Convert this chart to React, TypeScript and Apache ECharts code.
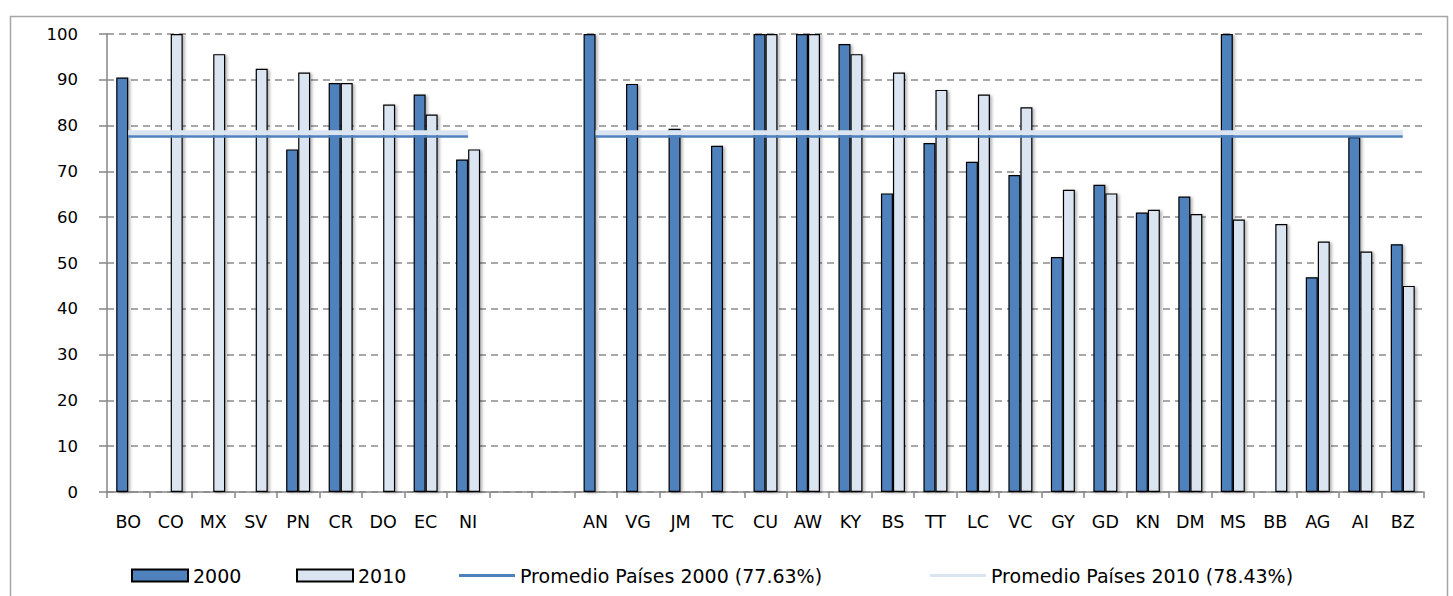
import React, { useEffect, useRef } from "react";
import * as echarts from "echarts";

const categories = ["BO", "CO", "MX", "SV", "PN", "CR", "DO", "EC", "NI", " ", "  ", "AN", "VG", "JM", "TC", "CU", "AW", "KY", "BS", "TT", "LC", "VC", "GY", "GD", "KN", "DM", "MS", "BB", "AG", "AI", "BZ"];

const values2000 = [90.5, null, null, null, 74.8, 89.3, null, 86.8, 72.6, null, null, 100, 89.1, 79.3, 75.6, 100, 100, 97.8, 65.2, 76.2, 72.1, 69.2, 51.3, 67.1, 61.0, 64.5, 100, null, 46.9, 77.5, 54.1];
const values2010 = [null, 100, 95.6, 92.4, 91.6, 89.3, 84.6, 82.4, 74.8, null, null, null, null, null, null, 100, 100, 95.6, 91.6, 87.8, 86.8, 84.0, 66.0, 65.2, 61.6, 60.7, 59.5, 58.5, 54.7, 52.5, 45.0];

const avg2000 = 77.63;
const avg2010 = 78.43;

const seriesNames = ["2000", "2010", "Promedio Países 2000 (77.63%)", "Promedio Países 2010 (78.43%)"];
const yTicks = [0, 10, 20, 30, 40, 50, 60, 70, 80, 90, 100];

const DARK = "#4F81BD";
const LIGHT = "#DBE5F1";
const FONT = "DejaVu Sans";

export default function App() {
  const ref = useRef<HTMLDivElement>(null);

  useEffect(() => {
    if (!ref.current) return;
    const chart = echarts.init(ref.current, null, { renderer: "svg" });
    const isGap = (c: string) => c.trim() === "";
    const line2000 = categories.map((c) => (isGap(c) ? null : avg2000));
    const line2010 = categories.map((c) => (isGap(c) ? null : avg2010));

    const barStyle = (color: string) => ({
      color,
      borderColor: "#000",
      borderWidth: 1.2,
      shadowColor: "rgba(0,0,0,0.3)",
      shadowBlur: 3,
      shadowOffsetX: 2,
      shadowOffsetY: 1,
    });

    const legendBase = {
      top: 561,
      itemWidth: 56,
      itemGap: 6,
      textStyle: { fontFamily: FONT, fontSize: 19, color: "#000" },
      selectedMode: false,
    };

    chart.setOption({
      animation: false,
      backgroundColor: "#fff",
      grid: { left: 107, right: 29, top: 34, bottom: 104, containLabel: false },
      graphic: [
        {
          type: "rect",
          left: 8,
          top: 14,
          shape: { width: 1437, height: 600 },
          style: { fill: "none", stroke: "#A6A6A6", lineWidth: 1.5 },
          silent: true,
        },
      ],
      legend: [
        { ...legendBase, left: 126, itemHeight: 12, icon: "rect", data: [seriesNames[0]] },
        { ...legendBase, left: 291, itemHeight: 12, icon: "rect", data: [seriesNames[1]] },
        { ...legendBase, left: 454, itemHeight: 3, icon: "rect", itemStyle: { borderWidth: 0 }, data: [seriesNames[2]] },
        { ...legendBase, left: 925, itemHeight: 3, icon: "rect", itemStyle: { borderWidth: 0 }, data: [seriesNames[3]] },
      ],
      xAxis: {
        type: "category",
        data: categories,
        boundaryGap: true,
        axisLine: { show: true, lineStyle: { color: "#868686", width: 1.5 } },
        axisTick: { show: true, length: 6, interval: 0, lineStyle: { color: "#868686", width: 1.5 } },
        axisLabel: { interval: 0, margin: 21, fontFamily: FONT, fontSize: 17.5, color: "#000" },
        splitLine: { show: false },
      },
      yAxis: {
        type: "value",
        min: yTicks[0],
        max: yTicks[yTicks.length - 1],
        interval: yTicks[1] - yTicks[0],
        axisLine: { show: true, lineStyle: { color: "#868686", width: 1.5 } },
        axisTick: { show: true, length: 8, lineStyle: { color: "#868686", width: 1.5 } },
        axisLabel: { margin: 29, fontFamily: FONT, fontSize: 16.5, color: "#000" },
        splitLine: { show: true, lineStyle: { color: "#8C8C8C", width: 1.5, type: [7, 5] } },
      },
      series: [
        {
          name: seriesNames[0],
          type: "bar",
          data: values2000,
          barWidth: 12,
          barGap: "0%",
          itemStyle: barStyle(DARK),
          z: 2,
        },
        {
          name: seriesNames[1],
          type: "bar",
          data: values2010,
          barWidth: 12,
          barGap: "0%",
          itemStyle: barStyle(LIGHT),
          z: 2,
        },
        {
          name: seriesNames[3],
          type: "line",
          data: line2010,
          symbol: "none",
          connectNulls: false,
          lineStyle: { color: LIGHT, width: 5 },
          itemStyle: { color: LIGHT },
          z: 3,
        },
        {
          name: seriesNames[2],
          type: "line",
          data: line2000,
          symbol: "none",
          connectNulls: false,
          lineStyle: { color: DARK, width: 2.5 },
          itemStyle: { color: DARK },
          z: 4,
        },
      ],
    });
    return () => chart.dispose();
  }, []);

  return (
    <div
      ref={ref}
      style={{ position: "absolute", left: 0, top: 0, width: 1453, height: 596 }}
    />
  );
}
